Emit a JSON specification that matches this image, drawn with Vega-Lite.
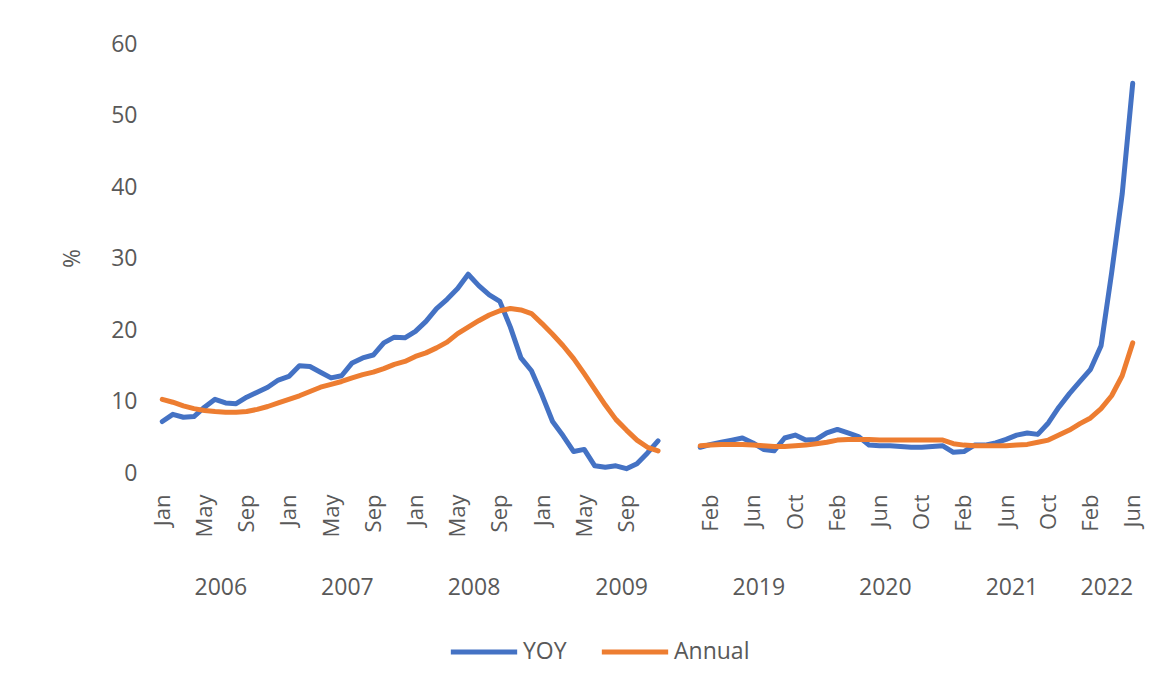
{
  "$schema": "https://vega.github.io/schema/vega-lite/v6.json",
  "autosize": {"type": "none"},
  "width": 981,
  "height": 429,
  "padding": {"left": 157, "top": 44, "right": 22, "bottom": 206},
  "background": "white",
  "config": {
    "view": {"stroke": null},
    "font": "Open Sans",
    "axis": {"labelFont": "Open Sans", "titleFont": "Open Sans", "labelColor": "#595959", "titleColor": "#595959", "grid": false, "ticks": false, "domain": false}
  },
  "datasets": {
    "inflation": [
      {"month":"2006-01","series":"YOY","value":7.2,"period":"A"},
      {"month":"2006-02","series":"YOY","value":8.2,"period":"A"},
      {"month":"2006-03","series":"YOY","value":7.8,"period":"A"},
      {"month":"2006-04","series":"YOY","value":7.9,"period":"A"},
      {"month":"2006-05","series":"YOY","value":9.2,"period":"A"},
      {"month":"2006-06","series":"YOY","value":10.3,"period":"A"},
      {"month":"2006-07","series":"YOY","value":9.8,"period":"A"},
      {"month":"2006-08","series":"YOY","value":9.7,"period":"A"},
      {"month":"2006-09","series":"YOY","value":10.6,"period":"A"},
      {"month":"2006-10","series":"YOY","value":11.3,"period":"A"},
      {"month":"2006-11","series":"YOY","value":12.0,"period":"A"},
      {"month":"2006-12","series":"YOY","value":13.0,"period":"A"},
      {"month":"2007-01","series":"YOY","value":13.5,"period":"A"},
      {"month":"2007-02","series":"YOY","value":15.0,"period":"A"},
      {"month":"2007-03","series":"YOY","value":14.9,"period":"A"},
      {"month":"2007-04","series":"YOY","value":14.1,"period":"A"},
      {"month":"2007-05","series":"YOY","value":13.3,"period":"A"},
      {"month":"2007-06","series":"YOY","value":13.6,"period":"A"},
      {"month":"2007-07","series":"YOY","value":15.4,"period":"A"},
      {"month":"2007-08","series":"YOY","value":16.1,"period":"A"},
      {"month":"2007-09","series":"YOY","value":16.5,"period":"A"},
      {"month":"2007-10","series":"YOY","value":18.2,"period":"A"},
      {"month":"2007-11","series":"YOY","value":19.0,"period":"A"},
      {"month":"2007-12","series":"YOY","value":18.9,"period":"A"},
      {"month":"2008-01","series":"YOY","value":19.8,"period":"A"},
      {"month":"2008-02","series":"YOY","value":21.2,"period":"A"},
      {"month":"2008-03","series":"YOY","value":23.0,"period":"A"},
      {"month":"2008-04","series":"YOY","value":24.3,"period":"A"},
      {"month":"2008-05","series":"YOY","value":25.8,"period":"A"},
      {"month":"2008-06","series":"YOY","value":27.8,"period":"A"},
      {"month":"2008-07","series":"YOY","value":26.2,"period":"A"},
      {"month":"2008-08","series":"YOY","value":24.9,"period":"A"},
      {"month":"2008-09","series":"YOY","value":24.0,"period":"A"},
      {"month":"2008-10","series":"YOY","value":20.4,"period":"A"},
      {"month":"2008-11","series":"YOY","value":16.1,"period":"A"},
      {"month":"2008-12","series":"YOY","value":14.3,"period":"A"},
      {"month":"2009-01","series":"YOY","value":10.9,"period":"A"},
      {"month":"2009-02","series":"YOY","value":7.2,"period":"A"},
      {"month":"2009-03","series":"YOY","value":5.2,"period":"A"},
      {"month":"2009-04","series":"YOY","value":3.0,"period":"A"},
      {"month":"2009-05","series":"YOY","value":3.3,"period":"A"},
      {"month":"2009-06","series":"YOY","value":1.0,"period":"A"},
      {"month":"2009-07","series":"YOY","value":0.8,"period":"A"},
      {"month":"2009-08","series":"YOY","value":1.0,"period":"A"},
      {"month":"2009-09","series":"YOY","value":0.6,"period":"A"},
      {"month":"2009-10","series":"YOY","value":1.3,"period":"A"},
      {"month":"2009-11","series":"YOY","value":2.8,"period":"A"},
      {"month":"2009-12","series":"YOY","value":4.5,"period":"A"},
      {"month":"2019-01","series":"YOY","value":3.6,"period":"B"},
      {"month":"2019-02","series":"YOY","value":4.0,"period":"B"},
      {"month":"2019-03","series":"YOY","value":4.3,"period":"B"},
      {"month":"2019-04","series":"YOY","value":4.6,"period":"B"},
      {"month":"2019-05","series":"YOY","value":4.9,"period":"B"},
      {"month":"2019-06","series":"YOY","value":4.2,"period":"B"},
      {"month":"2019-07","series":"YOY","value":3.3,"period":"B"},
      {"month":"2019-08","series":"YOY","value":3.1,"period":"B"},
      {"month":"2019-09","series":"YOY","value":4.9,"period":"B"},
      {"month":"2019-10","series":"YOY","value":5.3,"period":"B"},
      {"month":"2019-11","series":"YOY","value":4.6,"period":"B"},
      {"month":"2019-12","series":"YOY","value":4.7,"period":"B"},
      {"month":"2020-01","series":"YOY","value":5.6,"period":"B"},
      {"month":"2020-02","series":"YOY","value":6.1,"period":"B"},
      {"month":"2020-03","series":"YOY","value":5.6,"period":"B"},
      {"month":"2020-04","series":"YOY","value":5.1,"period":"B"},
      {"month":"2020-05","series":"YOY","value":3.9,"period":"B"},
      {"month":"2020-06","series":"YOY","value":3.8,"period":"B"},
      {"month":"2020-07","series":"YOY","value":3.8,"period":"B"},
      {"month":"2020-08","series":"YOY","value":3.7,"period":"B"},
      {"month":"2020-09","series":"YOY","value":3.6,"period":"B"},
      {"month":"2020-10","series":"YOY","value":3.6,"period":"B"},
      {"month":"2020-11","series":"YOY","value":3.7,"period":"B"},
      {"month":"2020-12","series":"YOY","value":3.8,"period":"B"},
      {"month":"2021-01","series":"YOY","value":2.9,"period":"B"},
      {"month":"2021-02","series":"YOY","value":3.0,"period":"B"},
      {"month":"2021-03","series":"YOY","value":3.9,"period":"B"},
      {"month":"2021-04","series":"YOY","value":3.9,"period":"B"},
      {"month":"2021-05","series":"YOY","value":4.2,"period":"B"},
      {"month":"2021-06","series":"YOY","value":4.7,"period":"B"},
      {"month":"2021-07","series":"YOY","value":5.3,"period":"B"},
      {"month":"2021-08","series":"YOY","value":5.6,"period":"B"},
      {"month":"2021-09","series":"YOY","value":5.4,"period":"B"},
      {"month":"2021-10","series":"YOY","value":7.0,"period":"B"},
      {"month":"2021-11","series":"YOY","value":9.2,"period":"B"},
      {"month":"2021-12","series":"YOY","value":11.1,"period":"B"},
      {"month":"2022-01","series":"YOY","value":12.8,"period":"B"},
      {"month":"2022-02","series":"YOY","value":14.5,"period":"B"},
      {"month":"2022-03","series":"YOY","value":17.8,"period":"B"},
      {"month":"2022-04","series":"YOY","value":28.0,"period":"B"},
      {"month":"2022-05","series":"YOY","value":39.0,"period":"B"},
      {"month":"2022-06","series":"YOY","value":54.5,"period":"B"},
      {"month":"2006-01","series":"Annual","value":10.3,"period":"A"},
      {"month":"2006-02","series":"Annual","value":9.9,"period":"A"},
      {"month":"2006-03","series":"Annual","value":9.4,"period":"A"},
      {"month":"2006-04","series":"Annual","value":9.0,"period":"A"},
      {"month":"2006-05","series":"Annual","value":8.75,"period":"A"},
      {"month":"2006-06","series":"Annual","value":8.6,"period":"A"},
      {"month":"2006-07","series":"Annual","value":8.5,"period":"A"},
      {"month":"2006-08","series":"Annual","value":8.5,"period":"A"},
      {"month":"2006-09","series":"Annual","value":8.6,"period":"A"},
      {"month":"2006-10","series":"Annual","value":8.9,"period":"A"},
      {"month":"2006-11","series":"Annual","value":9.3,"period":"A"},
      {"month":"2006-12","series":"Annual","value":9.8,"period":"A"},
      {"month":"2007-01","series":"Annual","value":10.3,"period":"A"},
      {"month":"2007-02","series":"Annual","value":10.8,"period":"A"},
      {"month":"2007-03","series":"Annual","value":11.4,"period":"A"},
      {"month":"2007-04","series":"Annual","value":12.0,"period":"A"},
      {"month":"2007-05","series":"Annual","value":12.4,"period":"A"},
      {"month":"2007-06","series":"Annual","value":12.8,"period":"A"},
      {"month":"2007-07","series":"Annual","value":13.3,"period":"A"},
      {"month":"2007-08","series":"Annual","value":13.75,"period":"A"},
      {"month":"2007-09","series":"Annual","value":14.1,"period":"A"},
      {"month":"2007-10","series":"Annual","value":14.6,"period":"A"},
      {"month":"2007-11","series":"Annual","value":15.2,"period":"A"},
      {"month":"2007-12","series":"Annual","value":15.6,"period":"A"},
      {"month":"2008-01","series":"Annual","value":16.3,"period":"A"},
      {"month":"2008-02","series":"Annual","value":16.8,"period":"A"},
      {"month":"2008-03","series":"Annual","value":17.5,"period":"A"},
      {"month":"2008-04","series":"Annual","value":18.3,"period":"A"},
      {"month":"2008-05","series":"Annual","value":19.5,"period":"A"},
      {"month":"2008-06","series":"Annual","value":20.4,"period":"A"},
      {"month":"2008-07","series":"Annual","value":21.3,"period":"A"},
      {"month":"2008-08","series":"Annual","value":22.1,"period":"A"},
      {"month":"2008-09","series":"Annual","value":22.7,"period":"A"},
      {"month":"2008-10","series":"Annual","value":23.0,"period":"A"},
      {"month":"2008-11","series":"Annual","value":22.8,"period":"A"},
      {"month":"2008-12","series":"Annual","value":22.3,"period":"A"},
      {"month":"2009-01","series":"Annual","value":20.9,"period":"A"},
      {"month":"2009-02","series":"Annual","value":19.4,"period":"A"},
      {"month":"2009-03","series":"Annual","value":17.8,"period":"A"},
      {"month":"2009-04","series":"Annual","value":16.0,"period":"A"},
      {"month":"2009-05","series":"Annual","value":13.9,"period":"A"},
      {"month":"2009-06","series":"Annual","value":11.7,"period":"A"},
      {"month":"2009-07","series":"Annual","value":9.5,"period":"A"},
      {"month":"2009-08","series":"Annual","value":7.5,"period":"A"},
      {"month":"2009-09","series":"Annual","value":6.0,"period":"A"},
      {"month":"2009-10","series":"Annual","value":4.6,"period":"A"},
      {"month":"2009-11","series":"Annual","value":3.6,"period":"A"},
      {"month":"2009-12","series":"Annual","value":3.1,"period":"A"},
      {"month":"2019-01","series":"Annual","value":3.8,"period":"B"},
      {"month":"2019-02","series":"Annual","value":3.9,"period":"B"},
      {"month":"2019-03","series":"Annual","value":4.0,"period":"B"},
      {"month":"2019-04","series":"Annual","value":4.0,"period":"B"},
      {"month":"2019-05","series":"Annual","value":4.0,"period":"B"},
      {"month":"2019-06","series":"Annual","value":3.9,"period":"B"},
      {"month":"2019-07","series":"Annual","value":3.8,"period":"B"},
      {"month":"2019-08","series":"Annual","value":3.7,"period":"B"},
      {"month":"2019-09","series":"Annual","value":3.7,"period":"B"},
      {"month":"2019-10","series":"Annual","value":3.8,"period":"B"},
      {"month":"2019-11","series":"Annual","value":3.9,"period":"B"},
      {"month":"2019-12","series":"Annual","value":4.1,"period":"B"},
      {"month":"2020-01","series":"Annual","value":4.3,"period":"B"},
      {"month":"2020-02","series":"Annual","value":4.6,"period":"B"},
      {"month":"2020-03","series":"Annual","value":4.7,"period":"B"},
      {"month":"2020-04","series":"Annual","value":4.7,"period":"B"},
      {"month":"2020-05","series":"Annual","value":4.7,"period":"B"},
      {"month":"2020-06","series":"Annual","value":4.6,"period":"B"},
      {"month":"2020-07","series":"Annual","value":4.6,"period":"B"},
      {"month":"2020-08","series":"Annual","value":4.6,"period":"B"},
      {"month":"2020-09","series":"Annual","value":4.6,"period":"B"},
      {"month":"2020-10","series":"Annual","value":4.6,"period":"B"},
      {"month":"2020-11","series":"Annual","value":4.6,"period":"B"},
      {"month":"2020-12","series":"Annual","value":4.6,"period":"B"},
      {"month":"2021-01","series":"Annual","value":4.1,"period":"B"},
      {"month":"2021-02","series":"Annual","value":3.9,"period":"B"},
      {"month":"2021-03","series":"Annual","value":3.8,"period":"B"},
      {"month":"2021-04","series":"Annual","value":3.8,"period":"B"},
      {"month":"2021-05","series":"Annual","value":3.8,"period":"B"},
      {"month":"2021-06","series":"Annual","value":3.8,"period":"B"},
      {"month":"2021-07","series":"Annual","value":3.9,"period":"B"},
      {"month":"2021-08","series":"Annual","value":4.0,"period":"B"},
      {"month":"2021-09","series":"Annual","value":4.3,"period":"B"},
      {"month":"2021-10","series":"Annual","value":4.6,"period":"B"},
      {"month":"2021-11","series":"Annual","value":5.3,"period":"B"},
      {"month":"2021-12","series":"Annual","value":6.0,"period":"B"},
      {"month":"2022-01","series":"Annual","value":6.9,"period":"B"},
      {"month":"2022-02","series":"Annual","value":7.7,"period":"B"},
      {"month":"2022-03","series":"Annual","value":9.0,"period":"B"},
      {"month":"2022-04","series":"Annual","value":10.8,"period":"B"},
      {"month":"2022-05","series":"Annual","value":13.6,"period":"B"},
      {"month":"2022-06","series":"Annual","value":18.2,"period":"B"}
    ]
  },
  "data": {"name": "inflation"},
  "resolve": {"axis": {"x": "independent", "y": "independent"}},
  "layer": [
    {
      "mark": {"type": "line", "strokeWidth": 5, "strokeJoin": "round", "strokeCap": "round"},
      "encoding": {
        "x": {
          "field": "month", "type": "ordinal",
          "scale": {"type": "point", "padding": 0.5, "domain": ["2006-01","2006-02","2006-03","2006-04","2006-05","2006-06","2006-07","2006-08","2006-09","2006-10","2006-11","2006-12","2007-01","2007-02","2007-03","2007-04","2007-05","2007-06","2007-07","2007-08","2007-09","2007-10","2007-11","2007-12","2008-01","2008-02","2008-03","2008-04","2008-05","2008-06","2008-07","2008-08","2008-09","2008-10","2008-11","2008-12","2009-01","2009-02","2009-03","2009-04","2009-05","2009-06","2009-07","2009-08","2009-09","2009-10","2009-11","2009-12","gap-1","gap-2","gap-3","2019-01","2019-02","2019-03","2019-04","2019-05","2019-06","2019-07","2019-08","2019-09","2019-10","2019-11","2019-12","2020-01","2020-02","2020-03","2020-04","2020-05","2020-06","2020-07","2020-08","2020-09","2020-10","2020-11","2020-12","2021-01","2021-02","2021-03","2021-04","2021-05","2021-06","2021-07","2021-08","2021-09","2021-10","2021-11","2021-12","2022-01","2022-02","2022-03","2022-04","2022-05","2022-06"]},
          "axis": {
            "title": null, "orient": "bottom",
            "values": ["2006-01","2006-05","2006-09","2007-01","2007-05","2007-09","2008-01","2008-05","2008-09","2009-01","2009-05","2009-09","2019-02","2019-06","2019-10","2020-02","2020-06","2020-10","2021-02","2021-06","2021-10","2022-02","2022-06"],
            "labelExpr": "['Jan','Feb','Mar','Apr','May','Jun','Jul','Aug','Sep','Oct','Nov','Dec'][toNumber(slice(datum.value, 5)) - 1]",
            "labelAngle": -90, "labelAlign": "right", "labelBaseline": "middle",
            "labelFontSize": 22, "labelPadding": 21, "labelOverlap": false
          }
        },
        "y": {
          "field": "value", "type": "quantitative",
          "scale": {"domain": [0, 60], "nice": false, "zero": true},
          "axis": {
            "orient": "left",
            "title": "%", "values": [0, 10, 20, 30, 40, 50, 60],
            "labelFontSize": 23, "labelPadding": 20,
            "titleFontSize": 23, "titleFontWeight": "normal", "titleAngle": -90,
            "titleX": -85, "titleY": 214, "titleAlign": "center", "titleBaseline": "middle"
          }
        },
        "color": {
          "field": "series", "type": "nominal",
          "scale": {"domain": ["YOY", "Annual"], "range": ["#4472C4", "#ED7D31"]},
          "legend": {
            "title": null, "orient": "none", "direction": "horizontal",
            "legendX": 291, "legendY": 572,
            "symbolType": "stroke", "symbolSize": 4400, "symbolStrokeWidth": 5,
            "labelFontSize": 23, "labelColor": "#595959", "labelFont": "Open Sans",
            "labelOffset": 3, "columnPadding": 24
          }
        },
        "detail": {"field": "period", "type": "nominal"}
      }
    },
    {
      "mark": {"type": "point", "opacity": 0, "size": 1},
      "encoding": {
        "x": {
          "field": "month", "type": "ordinal",
          "scale": {"type": "point", "padding": 0.5, "domain": ["2006-01","2006-02","2006-03","2006-04","2006-05","2006-06","2006-07","2006-08","2006-09","2006-10","2006-11","2006-12","2007-01","2007-02","2007-03","2007-04","2007-05","2007-06","2007-07","2007-08","2007-09","2007-10","2007-11","2007-12","2008-01","2008-02","2008-03","2008-04","2008-05","2008-06","2008-07","2008-08","2008-09","2008-10","2008-11","2008-12","2009-01","2009-02","2009-03","2009-04","2009-05","2009-06","2009-07","2009-08","2009-09","2009-10","2009-11","2009-12","gap-1","gap-2","gap-3","2019-01","2019-02","2019-03","2019-04","2019-05","2019-06","2019-07","2019-08","2019-09","2019-10","2019-11","2019-12","2020-01","2020-02","2020-03","2020-04","2020-05","2020-06","2020-07","2020-08","2020-09","2020-10","2020-11","2020-12","2021-01","2021-02","2021-03","2021-04","2021-05","2021-06","2021-07","2021-08","2021-09","2021-10","2021-11","2021-12","2022-01","2022-02","2022-03","2022-04","2022-05","2022-06"]},
          "axis": {
            "title": null, "orient": "bottom", "offset": 101,
            "values": ["2006-06","2007-06","2008-06","2009-08","2019-06","2020-06","2021-06","2022-03"],
            "labelExpr": "slice(datum.value, 0, 4)",
            "labelAngle": 0, "labelAlign": "center", "labelBaseline": "top",
            "labelFontSize": 23, "labelPadding": 2, "labelOffset": 5.3, "labelOverlap": false
          }
        },
        "y": {"field": "value", "type": "quantitative", "scale": {"domain": [0, 60], "nice": false}, "axis": null}
      }
    }
  ]
}
